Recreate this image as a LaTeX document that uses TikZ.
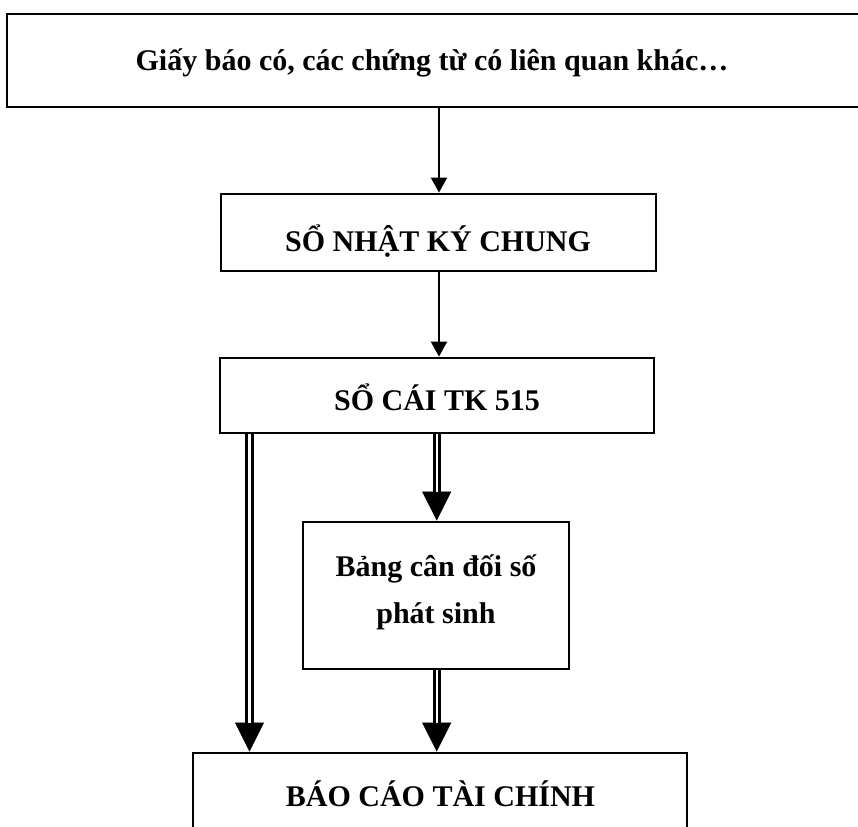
\documentclass[tikz,border=0pt]{standalone}
\usepackage{fontspec}
\setmainfont{Liberation Serif}
\usetikzlibrary{arrows.meta}
\begin{document}
\begin{tikzpicture}[x=1pt,y=-1pt,
  box/.style={draw, line width=2.8pt, rectangle, inner sep=0pt},
  txt/.style={font=\fontsize{30}{36}\selectfont\bfseries, anchor=base, inner sep=0pt},
  single/.style={draw, line width=2pt, -{Triangle[width=16pt,length=15pt]}},
  dblarrow/.style={
    postaction={draw, line width=0.5pt, -{Triangle[width=29pt,length=29pt]}},
    postaction={draw, double, line width=2.9pt, double distance=2.4pt, shorten >=28.8pt}}
]
\useasboundingbox (0,0) rectangle (858,826);
\clip (0,0) rectangle (858,826);

% boxes
\node[box, minimum width=855pt, minimum height=93pt] (src) at (434.5,60.5) {};
\node[box, minimum width=435pt, minimum height=77pt] (nkc) at (438.5,232.5) {};
\node[box, minimum width=434pt, minimum height=75pt] (sc) at (437,395.5) {};
\node[box, minimum width=266pt, minimum height=147pt] (cdps) at (436,595.5) {};
\node[box, minimum width=494pt, minimum height=94pt] (bctc) at (440,800) {};

% texts
\node[txt] (tsrc) at (432,71) {Giấy báo có, các chứng từ có liên quan khác…};
\node[txt] (tnkc) at (438,251) {SỔ NHẬT KÝ CHUNG};
\node[txt] (tsc) at (437,410) {SỔ CÁI TK 515};
\node[txt] (tcdps1) at (436,576) {Bảng cân đối số};
\node[txt] (tcdps2) at (436,623) {phát sinh};
\node[txt] (tbctc) at (440.5,806) {BÁO CÁO TÀI CHÍNH};

% connector columns
\coordinate (xm) at (439,0);
\coordinate (xl) at (249.5,0);
\coordinate (xr) at (436.7,0);

% single arrows
\draw[single] (src.south -| xm) -- (nkc.north -| xm);
\draw[single] (nkc.south -| xm) -- (sc.north -| xm);

% double arrows
\path[dblarrow] (sc.south -| xr) -- (cdps.north -| xr);
\path[dblarrow] (sc.south -| xl) -- (bctc.north -| xl);
\path[dblarrow] (cdps.south -| xr) -- (bctc.north -| xr);
\end{tikzpicture}
\end{document}
